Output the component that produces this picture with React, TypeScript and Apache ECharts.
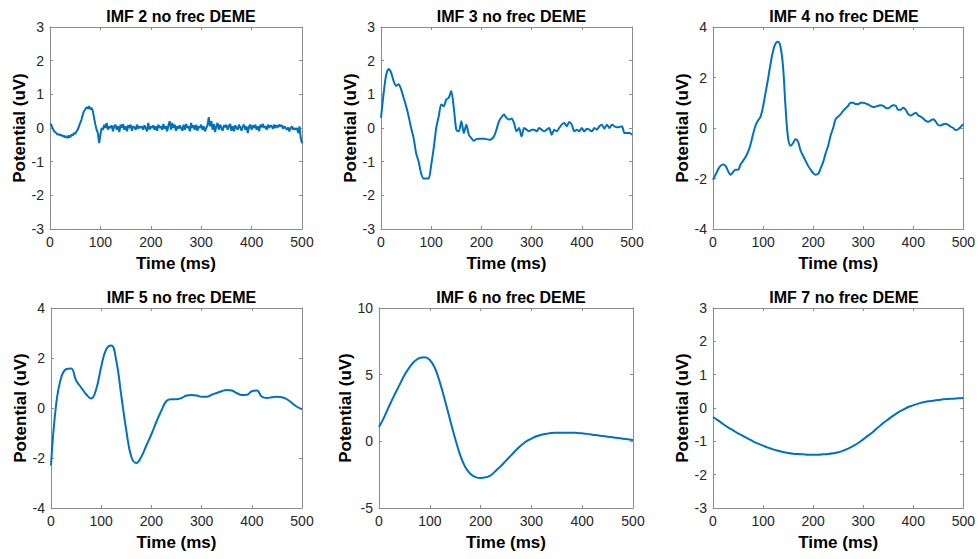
import React, { useEffect, useRef } from "react";
import * as echarts from "echarts";

const titles = [
  "IMF 2 no frec DEME",
  "IMF 3 no frec DEME",
  "IMF 4 no frec DEME",
  "IMF 5 no frec DEME",
  "IMF 6 no frec DEME",
  "IMF 7 no frec DEME",
];

const xTicks = [0, 100, 200, 300, 400, 500];

// sampling steps (ms) of each series
const steps = [2.5, 5, 5, 10, 10, 10];

const imf2 = [
  0.12, 0.1, 0.0, -0.08, -0.12, -0.15, -0.2, -0.18, -0.22, -0.2, -0.25, -0.22, -0.28, -0.24, -0.3, -0.22, -0.28, -0.2, -0.22, -0.15, -0.18,
  -0.1, -0.05, 0.05, 0.15, 0.25, 0.4, 0.5, 0.55, 0.62, 0.58, 0.65, 0.55, 0.6, 0.5, 0.3, 0.1, -0.05, -0.15, -0.45, -0.2,
  0.0, -0.05, 0.1, 0.0, 0.15, -0.05, 0.05, 0.0, 0.08, -0.1, 0.05, 0.1, -0.05, 0.05, -0.12, 0.1, 0.0, 0.12, -0.05, 0.05,
  -0.1, 0.08, 0.0, 0.1, -0.08, 0.05, 0.02, -0.05, 0.1, -0.02, 0.05, 0.0, 0.05, -0.05, 0.08, 0.0, -0.1, 0.15, -0.05, 0.05,
  0.0, 0.08, -0.05, 0.05, -0.08, 0.1, 0.0, 0.05, -0.05, 0.12, -0.02, 0.05, -0.1, 0.08, 0.2, -0.05, 0.15, 0.0, 0.1, -0.08,
  0.05, -0.02, 0.08, 0.0, -0.08, 0.1, -0.05, 0.12, 0.0, 0.05, -0.1, 0.15, 0.0, 0.08, -0.05, 0.1, -0.08, 0.05, 0.0, 0.1,
  -0.05, 0.05, -0.1, 0.0, 0.08, 0.32, 0.05, 0.2, -0.05, 0.12, -0.12, 0.05, 0.15, -0.05, 0.1, 0.0, -0.08, 0.08, 0.02, 0.1,
  -0.05, 0.05, 0.12, -0.08, 0.05, -0.1, 0.08, 0.0, -0.05, 0.1, 0.02, -0.08, 0.05, 0.1, -0.05, 0.05, -0.15, 0.05, 0.1, -0.05,
  0.08, 0.0, 0.1, -0.05, 0.05, -0.1, 0.1, 0.02, 0.12, 0.0, 0.05, -0.05, 0.1, 0.0, 0.08, 0.05, -0.02, 0.1, 0.0, 0.08,
  0.02, 0.1, 0.05, 0.08, -0.02, 0.05, 0.0, -0.05, 0.02, -0.1, 0.0, 0.05, -0.05, 0.0, -0.05, 0.0, -0.15, 0.05, -0.3, -0.45,
];

const imf3 = [
  0.3, 1.0, 1.55, 1.75, 1.65, 1.4, 1.25, 1.3, 1.15, 0.9, 0.65, 0.35, 0.0, -0.3, -0.75, -1.0, -1.35, -1.5, -1.5, -1.5,
  -1.1, -0.6, 0.0, 0.35, 0.7, 0.65, 0.85, 0.9, 1.1, 0.6, -0.05, -0.1, 0.2, -0.15, 0.1, -0.2, -0.3, -0.38, -0.33, -0.32,
  -0.32, -0.32, -0.33, -0.35, -0.33, -0.25, -0.05, 0.2, 0.32, 0.4, 0.3, 0.25, 0.28, 0.15, -0.1, 0.0, -0.25, 0.0, -0.05, -0.1,
  -0.05, -0.05, -0.1, 0.0, -0.05, -0.1, -0.05, 0.0, -0.2, -0.05, -0.1, 0.0, 0.1, 0.15, 0.05, 0.18, 0.1, -0.1, -0.05, -0.1,
  0.0, -0.1, -0.02, -0.05, -0.1, 0.0, -0.05, 0.05, 0.1, -0.02, 0.1, 0.0, 0.1, 0.05, 0.02, 0.03, 0.05, -0.15, -0.15, -0.15,
  -0.2,
];

const imf4 = [
  -2.05, -1.85, -1.65, -1.5, -1.45, -1.5, -1.7, -1.85, -1.75, -1.65, -1.65, -1.45, -1.3, -1.15, -0.95, -0.65, -0.25, 0.1, 0.3, 0.45,
  0.85, 1.4, 1.95, 2.55, 3.05, 3.35, 3.42, 3.2, 2.4, 0.8, -0.4, -0.7, -0.6, -0.45, -0.55, -0.9, -1.1, -1.3, -1.5, -1.65,
  -1.78, -1.85, -1.82, -1.6, -1.35, -1.0, -0.7, -0.3, 0.0, 0.35, 0.45, 0.55, 0.68, 0.78, 0.88, 1.0, 1.0, 0.95, 0.95, 1.0,
  1.0, 0.97, 0.93, 0.87, 0.83, 0.85, 0.88, 0.9, 0.88, 0.8, 0.78, 0.85, 0.9, 0.88, 0.72, 0.72, 0.8, 0.72, 0.55, 0.5,
  0.55, 0.6, 0.5, 0.45, 0.38, 0.28, 0.25, 0.3, 0.35, 0.25, 0.12, 0.1, 0.15, 0.17, 0.12, 0.05, 0.0, -0.08, -0.05, 0.05,
  0.15,
];

const imf5 = [
  -2.3, 0.1, 1.2, 1.55, 1.58, 1.1, 0.82, 0.55, 0.38, 0.75, 1.65, 2.35, 2.5, 1.9, 0.5, -0.9, -1.95, -2.2, -1.95, -1.5,
  -1.05, -0.55, -0.1, 0.28, 0.35, 0.35, 0.4, 0.5, 0.52, 0.5, 0.45, 0.45, 0.53, 0.6, 0.67, 0.72, 0.7, 0.6, 0.52, 0.53,
  0.67, 0.7, 0.45, 0.4, 0.43, 0.45, 0.43, 0.35, 0.2, 0.05, -0.05,
];

const imf6 = [
  1.07, 1.8, 2.65, 3.45, 4.2, 4.95, 5.55, 6.0, 6.25, 6.3, 6.1, 5.5, 4.4, 3.05, 1.6, 0.2, -1.05, -1.95, -2.45, -2.68,
  -2.75, -2.7, -2.55, -2.2, -1.85, -1.45, -1.05, -0.65, -0.3, 0.0, 0.2, 0.38, 0.5, 0.57, 0.62, 0.64, 0.65, 0.65, 0.65, 0.63,
  0.6, 0.56, 0.5, 0.45, 0.4, 0.35, 0.3, 0.25, 0.2, 0.15, 0.1,
];

const imf7 = [
  -0.27, -0.37, -0.48, -0.58, -0.67, -0.76, -0.84, -0.92, -1.0, -1.07, -1.13, -1.19, -1.24, -1.28, -1.32, -1.35, -1.37, -1.38, -1.39, -1.4,
  -1.4, -1.4, -1.39, -1.38, -1.36, -1.33, -1.28, -1.22, -1.14, -1.05, -0.94, -0.83, -0.71, -0.58, -0.45, -0.34, -0.23, -0.13, -0.05, 0.03,
  0.08, 0.13, 0.17, 0.2, 0.22, 0.24, 0.26, 0.27, 0.28, 0.29, 0.3,
];

const seriesValues = [imf2, imf3, imf4, imf5, imf6, imf7];

const yMins = [-3, -3, -4, -4, -5, -3];
const yMaxs = [3, 3, 4, 4, 10, 3];
const yIntervals = [1, 1, 2, 2, 5, 1];
const smoothing = [false, 0.25, 0.4, 0.45, 0.45, 0.45];

// plot box placements (px)
const boxes = [
  { left: 50, top: 27, width: 252, height: 202 },
  { left: 381, top: 27, width: 251, height: 202 },
  { left: 713, top: 27, width: 252, height: 202 },
  { left: 51, top: 308, width: 251, height: 200 },
  { left: 379, top: 308, width: 254, height: 200 },
  { left: 713, top: 308, width: 252, height: 200 },
];

const FONT = "'Liberation Sans', Arial, Helvetica, sans-serif";
const LINE_COLOR = "#0072BD";
const AXIS_COLOR = "#8c8c8c";
const TICK_TEXT = "#262626";

export default function App() {
  const ref = useRef<HTMLDivElement>(null);

  useEffect(() => {
    if (!ref.current) return;
    const chart = echarts.init(ref.current, null, { renderer: "svg" });

    const grid: any[] = [];
    const xAxis: any[] = [];
    const yAxis: any[] = [];
    const series: any[] = [];
    const title: any[] = [];

    boxes.forEach((b, i) => {
      grid.push({ left: b.left, top: b.top, width: b.width, height: b.height, containLabel: false });
      title.push({
        text: titles[i],
        left: b.left + b.width / 2,
        top: b.top - 24,
        textAlign: "center",
        textStyle: { fontFamily: FONT, fontSize: 16, fontWeight: "bold", color: "#000" },
      });
      const commonLine = { show: true, onZero: false, lineStyle: { color: AXIS_COLOR, width: 1 } };
      const commonTick = { show: true, inside: true, length: 3, lineStyle: { color: AXIS_COLOR } };
      xAxis.push({
        type: "value",
        gridIndex: i,
        min: xTicks[0],
        max: xTicks[xTicks.length - 1],
        interval: 100,
        position: "bottom",
        axisLine: commonLine,
        axisTick: commonTick,
        splitLine: { show: false },
        axisLabel: { color: TICK_TEXT, fontFamily: FONT, fontSize: 14, margin: 6 },
        name: "Time (ms)",
        nameLocation: "middle",
        nameGap: 26,
        nameTextStyle: { fontFamily: FONT, fontSize: 17, fontWeight: "bold", color: "#000" },
      });
      xAxis.push({
        type: "value",
        gridIndex: i,
        min: xTicks[0],
        max: xTicks[xTicks.length - 1],
        interval: 100,
        position: "top",
        axisLine: commonLine,
        axisTick: commonTick,
        splitLine: { show: false },
        axisLabel: { show: false },
      });
      yAxis.push({
        type: "value",
        gridIndex: i,
        min: yMins[i],
        max: yMaxs[i],
        interval: yIntervals[i],
        position: "left",
        axisLine: commonLine,
        axisTick: commonTick,
        splitLine: { show: false },
        axisLabel: { color: TICK_TEXT, fontFamily: FONT, fontSize: 14, margin: 6 },
        name: "Potential (uV)",
        nameLocation: "middle",
        nameGap: 20,
        nameTextStyle: { fontFamily: FONT, fontSize: 17, fontWeight: "bold", color: "#000" },
      });
      yAxis.push({
        type: "value",
        gridIndex: i,
        min: yMins[i],
        max: yMaxs[i],
        interval: yIntervals[i],
        position: "right",
        axisLine: commonLine,
        axisTick: commonTick,
        splitLine: { show: false },
        axisLabel: { show: false },
      });
      const vals = seriesValues[i];
      series.push({
        type: "line",
        xAxisIndex: i * 2,
        yAxisIndex: i * 2,
        data: vals.map((v, k) => [k * steps[i], v]),
        showSymbol: false,
        smooth: smoothing[i],
        lineStyle: { color: LINE_COLOR, width: 2 },
        itemStyle: { color: LINE_COLOR },
      });
    });

    chart.setOption({
      animation: false,
      backgroundColor: "#ffffff",
      title,
      grid,
      xAxis,
      yAxis,
      series,
    });

    return () => chart.dispose();
  }, []);

  return (
    <div
      ref={ref}
      style={{ position: "fixed", left: 0, top: 0, width: 978, height: 559, background: "#fff" }}
    />
  );
}
